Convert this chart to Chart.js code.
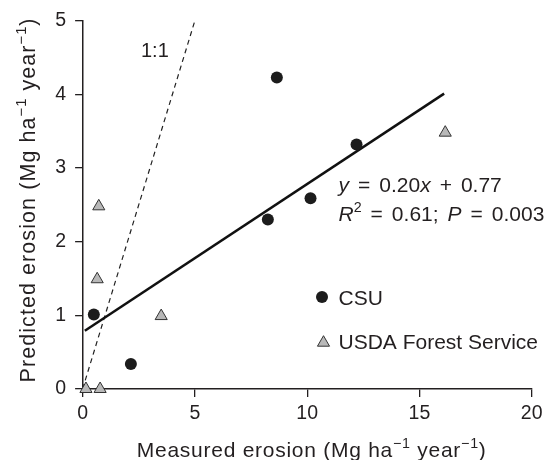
<!DOCTYPE html>
<html>
<head>
<meta charset="utf-8">
<script src="https://cdn.jsdelivr.net/npm/chart.js@4.4.1/dist/chart.umd.min.js"></script>
<style>
  html, body { margin: 0; padding: 0; background: #fff; }
  #wrap { width: 555px; height: 460px; position: relative; }
</style>
</head>
<body>
<div id="wrap"><canvas id="c" width="555" height="460"></canvas></div>
<script>
// ---- Data ----
const csuX = [8.65, 12.2, 10.15, 8.25, 0.5, 2.15];
const csuY = [4.23, 3.32, 2.59, 2.30, 1.01, 0.34];
const usdaX = [16.15, 0.72, 0.65, 3.5, 0.15, 0.78];
const usdaY = [3.48, 2.48, 1.49, 0.99, 0.0, 0.0];
const regX = [0.1, 16.1];
const regY = [0.79, 4.01];
const oneX = [0, 5];
const oneY = [0, 5];
const xTicks = [0, 5, 10, 15, 20];
const yTicks = [0, 1, 2, 3, 4, 5];
const seriesNames = ['CSU', 'USDA Forest Service'];

const INK = '#231f20';
const FONT = '"Liberation Sans", Arial, Helvetica, sans-serif';

function pts(xs, ys) { return xs.map((x, i) => ({ x: x, y: ys[i] })); }

// rich text drawing: segments {t, italic, sup, gap}; optional target width (spreads letters)
function drawRich(ctx, segs, x, y, size, align, target) {
  const fontFor = s => (s.italic ? 'italic ' : '') + (s.sup ? size * 0.68 : size) + 'px ' + FONT;
  const chars = [];
  segs.forEach(s => {
    if (s.gap) { chars.push({ gap: s.gap }); return; }
    ctx.font = fontFor(s);
    for (const ch of s.t) chars.push({ ch: ch, font: fontFor(s), sup: s.sup, w: ctx.measureText(ch).width });
  });
  let natural = 0;
  chars.forEach(c => { natural += c.gap ? c.gap : c.w; });
  let extra = 0;
  if (target && chars.length > 1) extra = (target - natural) / (chars.length - 1);
  const total = target ? target : natural;
  let cx = align === 'center' ? x - total / 2 : x;
  ctx.textAlign = 'left';
  ctx.textBaseline = 'alphabetic';
  chars.forEach(c => {
    if (c.gap) { cx += c.gap + extra; return; }
    ctx.font = c.font;
    ctx.fillText(c.ch, cx, c.sup ? y - size * 0.42 : y);
    cx += c.w + extra;
  });
}

const annotations = {
  id: 'annotations',
  afterDraw(chart) {
    const ctx = chart.ctx;
    ctx.save();
    ctx.fillStyle = INK;
    // 1:1 label
    ctx.font = '20px ' + FONT;
    ctx.textAlign = 'left';
    ctx.textBaseline = 'alphabetic';
    ctx.fillText('1:1', 141, 57);
    // equation
    const G = 9;
    drawRich(ctx, [
      { t: 'y', italic: true }, { gap: G }, { t: '=' }, { gap: G }, { t: '0.20' },
      { t: 'x', italic: true }, { gap: G }, { t: '+' }, { gap: G }, { t: '0.77' }
    ], 338.5, 192, 21, 'left');
    drawRich(ctx, [
      { t: 'R', italic: true }, { t: '2', sup: true }, { gap: G }, { t: '=' }, { gap: G },
      { t: '0.61;' }, { gap: G }, { t: 'P', italic: true }, { gap: G }, { t: '=' }, { gap: G }, { t: '0.003' }
    ], 338.5, 221, 21, 'left');
    // legend
    ctx.fillStyle = '#1c1c1c';
    ctx.beginPath(); ctx.arc(322, 297, 6, 0, Math.PI * 2); ctx.fill();
    ctx.fillStyle = '#b8b8b8';
    ctx.strokeStyle = '#333';
    ctx.lineWidth = 1;
    Chart.helpers.drawPoint(ctx, { pointStyle: 'triangle', radius: 7, rotation: 0, borderWidth: 1 }, 323.5, 342.7);
    ctx.fillStyle = INK;
    ctx.font = '21px ' + FONT;
    ctx.textBaseline = 'alphabetic';
    ctx.fillText(seriesNames[0], 338.5, 305);
    ctx.fillText(seriesNames[1], 338.5, 349);
    // axis titles
    const T = [
      { t: ' erosion (Mg ha' }, { t: '\u22121', sup: true }, { t: ' year' },
      { t: '\u22121', sup: true }, { t: ')' }
    ];
    drawRich(ctx, [{ t: 'Measured' }].concat(T), 311.3, 456.5, 21, 'center', 349);
    ctx.save();
    ctx.translate(35, 200.5);
    ctx.rotate(-Math.PI / 2);
    drawRich(ctx, [{ t: 'Predicted' }].concat(T), 0, 0, 21.5, 'center', 364);
    ctx.restore();
    ctx.restore();
  }
};

new Chart(document.getElementById('c'), {
  type: 'scatter',
  data: {
    datasets: [
      {
        label: seriesNames[0], data: pts(csuX, csuY),
        pointStyle: 'circle', pointRadius: 6, pointHoverRadius: 6,
        backgroundColor: '#1c1c1c', borderColor: '#1c1c1c', borderWidth: 0, clip: false
      },
      {
        label: seriesNames[1], data: pts(usdaX, usdaY),
        pointStyle: 'triangle', pointRadius: 7, pointHoverRadius: 7,
        backgroundColor: '#b8b8b8', borderColor: '#333', borderWidth: 1, clip: false
      },
      {
        type: 'line', label: 'fit', data: pts(regX, regY),
        showLine: true, borderColor: '#111', borderWidth: 2.5, pointRadius: 0, fill: false
      },
      {
        type: 'line', label: '1:1', data: pts(oneX, oneY),
        showLine: true, borderColor: '#222', borderWidth: 1.2, borderDash: [5, 4],
        pointRadius: 0, fill: false
      }
    ]
  },
  options: {
    responsive: false,
    animation: false,
    events: [],
    layout: { padding: { top: 19, right: 23.3, left: 0, bottom: 0 } },
    plugins: { legend: { display: false }, tooltip: { enabled: false } },
    scales: {
      x: {
        type: 'linear', min: 0, max: 20,
        afterFit(s) { s.height = 71; },
        afterBuildTicks(s) { s.ticks = xTicks.map(v => ({ value: v })); },
        ticks: { color: INK, font: { family: FONT, size: 19.5 }, padding: 5, maxRotation: 0 },
        grid: { display: true, drawOnChartArea: false, drawTicks: true, tickLength: 8, color: INK, lineWidth: 1.3 },
        border: { display: true, color: INK, width: 1.5 }
      },
      y: {
        type: 'linear', min: 0, max: 5,
        afterFit(s) { s.width = 82.6; },
        afterBuildTicks(s) { s.ticks = yTicks.map(v => ({ value: v })); },
        ticks: { color: INK, font: { family: FONT, size: 19.5 }, padding: 9 },
        grid: { display: true, drawOnChartArea: false, drawTicks: true, tickLength: 7.5, color: INK, lineWidth: 1.3 },
        border: { display: true, color: INK, width: 1.5 }
      }
    }
  },
  plugins: [annotations]
});
</script>
</body>
</html>
